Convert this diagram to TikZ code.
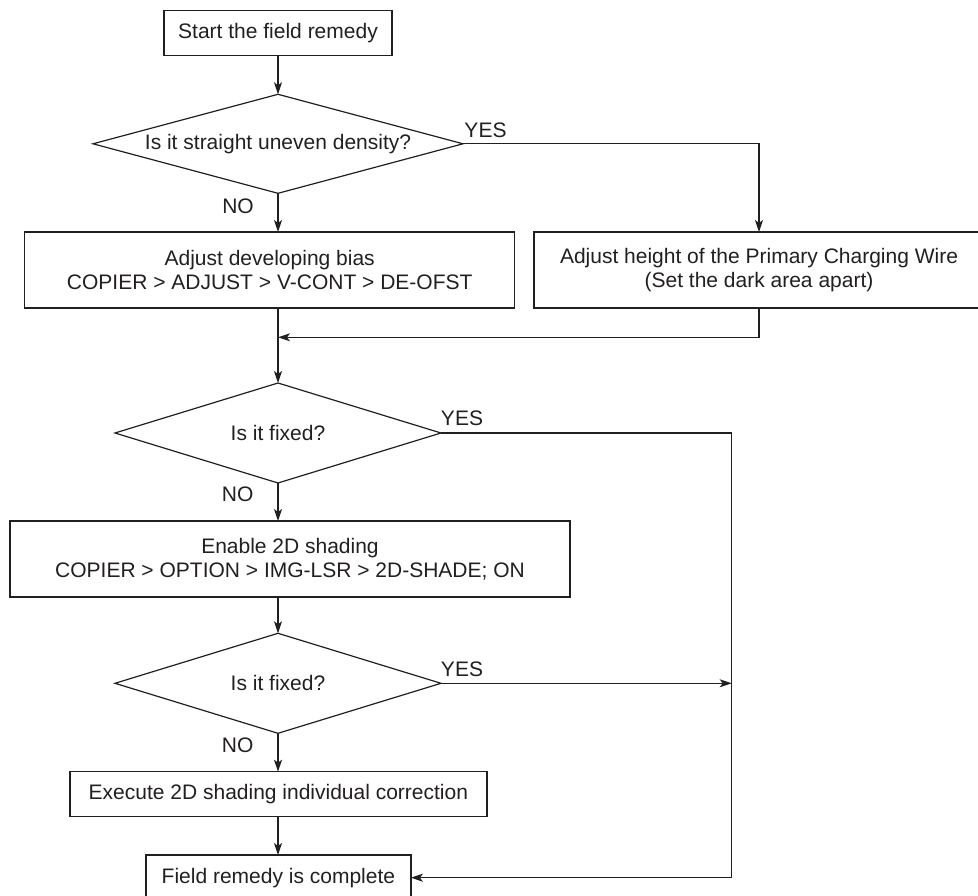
\documentclass[tikz,border=0pt]{standalone}
\usepackage{fontspec}
\setmainfont{Liberation Sans}
\usetikzlibrary{shapes.geometric,arrows.meta}
\definecolor{ink}{HTML}{231F20}
\begin{document}
\begin{tikzpicture}[x=1pt,y=-1pt,
  font=\fontsize{21}{24.5}\selectfont,
  every node/.style={text=ink},
  box/.style={draw=ink,line width=1.2pt,rectangle,inner sep=0pt,outer sep=0pt,align=center},
  dec/.style={draw=ink,line width=1.2pt,diamond,aspect=3.26,inner sep=0pt,outer sep=0pt,minimum width=326pt,minimum height=100pt},
  conn/.style={draw=ink,line width=1.2pt},
  arr/.style={conn,-{Stealth[length=12pt,width=8pt,inset=3pt]}},
  lbl/.style={inner sep=0pt}
]
\useasboundingbox (0,0) rectangle (978,896);

\node[box,minimum width=228pt,minimum height=45pt] (start) at (278,33.3) {Start the field remedy};
\node[dec,aspect=3.7,minimum width=370pt,minimum height=99pt] (d1) at (278,143.8) {Is it straight uneven density?};
\node[box,minimum width=490pt,minimum height=76pt] (bias) at (269.7,270) {Adjust developing bias\\COPIER > ADJUST > V-CONT > DE-OFST};
\node[box,minimum width=450pt,minimum height=76pt] (wire) at (759,270) {Adjust height of the Primary Charging Wire\\(Set the dark area apart)};
\node[dec] (d2) at (278,433) {Is it fixed?};
\node[box,minimum width=560pt,minimum height=76pt] (shade) at (290,559) {Enable 2D shading\\COPIER > OPTION > IMG-LSR > 2D-SHADE; ON};
\node[dec] (d3) at (278,683.3) {Is it fixed?};
\node[box,minimum width=417pt,minimum height=45pt] (exec) at (278.4,794.2) {Execute 2D shading individual correction};
\node[box,minimum width=265pt,minimum height=45.4pt] (done) at (278.4,877.7) {Field remedy is complete};

\coordinate (m1) at (278,337.3);
\coordinate (rt) at (731.7,433);
\coordinate (rb) at (731.7,877.7);

\draw[arr] (start.south) -- (d1.north);
\draw[arr] (d1.east) -| (wire.north);
\draw[arr] (d1.south) -- (d1.south |- bias.north);
\draw[arr] (wire.south) |- (m1);
\draw[arr] (d2.north |- bias.south) -- (d2.north);
\draw[arr] (d2.east) -- (rt) -- (rb) -- (done.east);
\draw[arr] (d2.south) -- (d2.south |- shade.north);
\draw[arr] (d3.north |- shade.south) -- (d3.north);
\draw[arr] (d3.east) -- (d3.east -| rt);
\draw[arr] (d3.south) -- (d3.south |- exec.north);
\draw[arr] (d3.south |- exec.south) -- (d3.south |- done.north);

\node[lbl] (y1) at (485.5,130) {YES};
\node[lbl] (n1) at (238,206) {NO};
\node[lbl] (y2) at (462,418.5) {YES};
\node[lbl] (n2) at (237.7,494) {NO};
\node[lbl] (y3) at (462,669.5) {YES};
\node[lbl] (n3) at (237.7,745.5) {NO};
\end{tikzpicture}
\end{document}
